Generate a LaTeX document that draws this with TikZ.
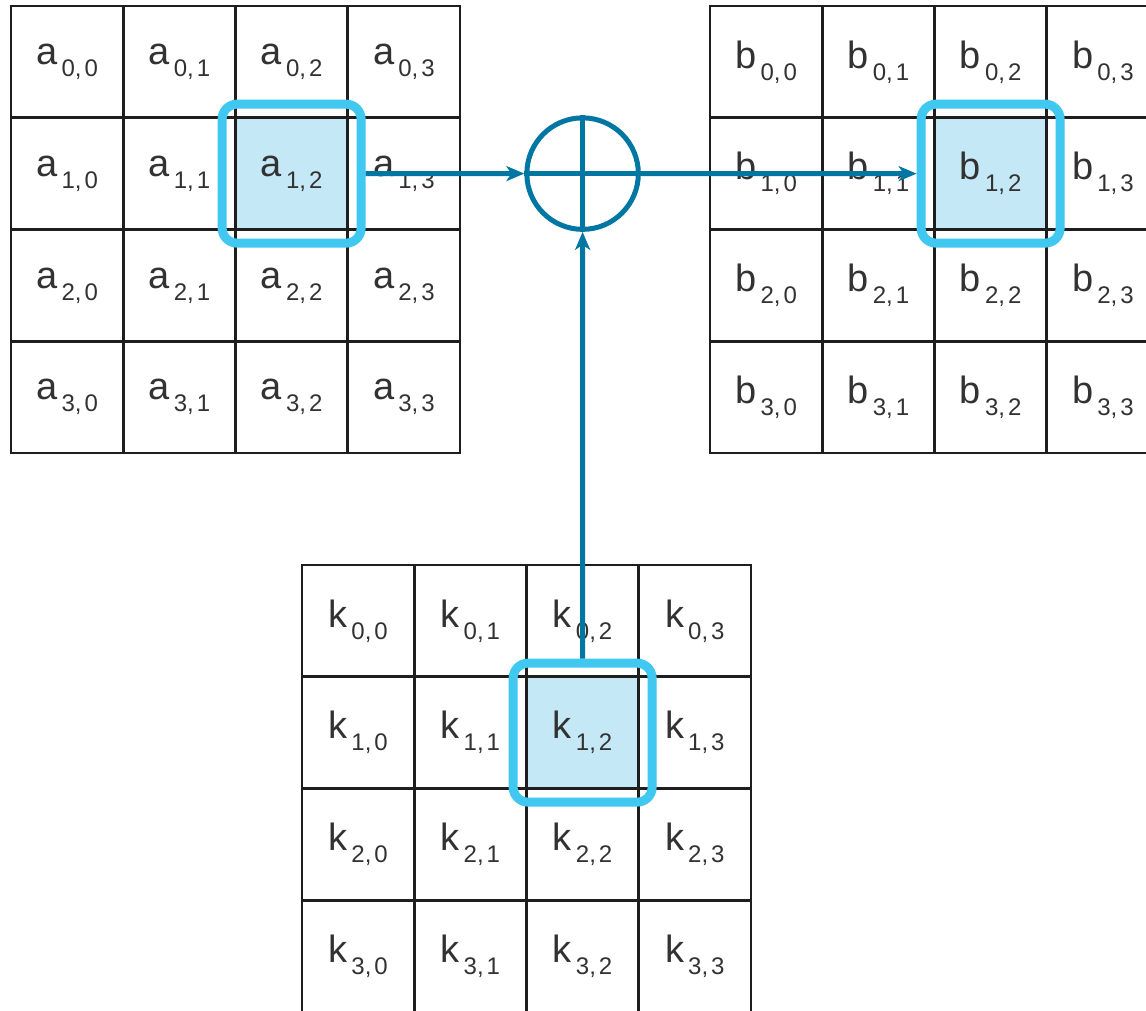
\documentclass[tikz,border=0pt]{standalone}
\usepackage{fontspec}
\setmainfont{Liberation Sans}
\usetikzlibrary{arrows.meta}
\definecolor{flow}{RGB}{0,118,163}
\definecolor{hl}{RGB}{64,200,240}
\definecolor{hlfill}{RGB}{197,232,247}
\definecolor{ink}{RGB}{30,30,30}
\definecolor{txt}{RGB}{50,50,50}
\newcommand{\celltext}[3]{{\fontsize{38}{38}\selectfont #1}\raisebox{-12pt}{\fontsize{24}{24}\selectfont\kern4pt #2,\kern3pt#3}}
\tikzset{
  cell/.style={draw=ink, line width=2.8pt, minimum width=112.25pt, minimum height=111.75pt,
    inner sep=0pt, outer sep=0pt, text=txt},
  hlbox/.style={draw=hl, line width=9pt, rounded corners=15pt, minimum size=139pt, inner sep=0pt},
  flowarrow/.style={draw=flow, line width=5pt, -{Stealth[length=18pt,width=15pt,inset=5pt]}},
}
\begin{document}
\begin{tikzpicture}[x=1pt,y=-1pt]
\useasboundingbox (0,0) rectangle (1146,1010);
% grids
\foreach \g/\gx/\gy in {a/11/6, b/710/6, k/302/565}{
  \foreach \r in {0,...,3}{
    \foreach \c in {0,...,3}{
      \ifnum\r=1 \ifnum\c=2 \def\cf{hlfill}\else\def\cf{white}\fi\else\def\cf{white}\fi
      \node[cell, fill=\cf] (\g\r\c) at ({\gx+112.25*(\c+0.5)},{\gy+111.75*(\r+0.5)}) {\celltext{\g}{\r}{\c}};
    }
  }
}
% highlight boxes
\node[hlbox] (ahl) at (a12.center) {};
\node[hlbox] (bhl) at (b12.center) {};
\node[hlbox] (khl) at (k12.center) {};
% xor
\node[circle, draw=flow, line width=5pt, minimum size=111.5pt, inner sep=0pt, fill=white] (xor) at (582.6,173.6) {};
\draw[flow, line width=5pt] (xor.north) -- (xor.south) (xor.west) -- (xor.east);
% arrows
\draw[flowarrow] (ahl.east) -- (xor.west);
\draw[flowarrow] (xor.east) -- (bhl.west);
\draw[flowarrow] (khl.north) -- (xor.south);
\end{tikzpicture}
\end{document}
